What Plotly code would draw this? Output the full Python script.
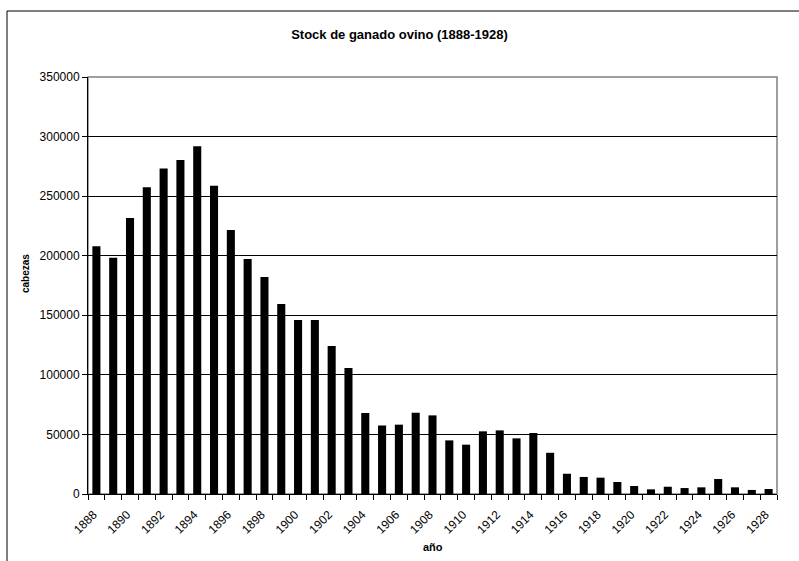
import plotly.graph_objects as go

years = list(range(1888, 1929))
cabezas = [208000, 198300, 231600, 257400, 273300, 280300, 291800, 258700, 221600, 197200,
           182100, 159500, 146000, 146000, 124200, 105700, 68000, 57500, 58200, 68200,
           66000, 45000, 41400, 52600, 53400, 46700, 51200, 34600, 17000, 14300,
           13700, 10100, 6700, 3900, 6100, 5000, 5600, 12600, 5600, 3400, 4200]
x_tick_years = list(range(1888, 1929, 2))
y_ticks = [0, 50000, 100000, 150000, 200000, 250000, 300000, 350000]

FONT = "Liberation Sans, Arial, sans-serif"

fig = go.Figure(go.Bar(
    x=years, y=cabezas,
    marker=dict(color="black", line=dict(width=0)),
    width=0.48,
))

fig.update_layout(
    width=799, height=561,
    margin=dict(l=88, r=22, t=77, b=67, autoexpand=False),
    paper_bgcolor="white", plot_bgcolor="white",
    showlegend=False,
    font=dict(family=FONT, size=11, color="black"),
    title=dict(text="<b>Stock de ganado ovino (1888-1928)</b>", x=0.5, xref="container",
               y=1 - 34 / 561, yref="container", yanchor="middle", xanchor="center",
               font=dict(size=13, family=FONT, color="black")),
    xaxis=dict(
        range=[1887.5, 1928.5], automargin=False,
        tickmode="array", tickvals=x_tick_years, ticktext=[str(y) for y in x_tick_years],
        tickangle=-45, ticks="", showgrid=False, zeroline=False,
        ticklabelstandoff=8, ticklabelshift=-3,
        showline=True, linecolor="black", linewidth=1,
        minor=dict(tick0=1887.5, dtick=1, ticks="outside", ticklen=5, tickcolor="black",
                   showgrid=False),
        tickfont=dict(size=12, family=FONT, color="black"),
    ),
    yaxis=dict(
        range=[0, 350000], automargin=False, tickmode="array", tickvals=y_ticks,
        ticktext=[str(v) for v in y_ticks],
        ticks="outside", ticklen=5, tickcolor="black",
        showgrid=True, gridcolor="black", gridwidth=1, zeroline=False,
        showline=True, linecolor="black", linewidth=1,
        tickfont=dict(size=12, family=FONT, color="black"),
    ),
    shapes=[
        dict(type="rect", xref="x domain", yref="y domain", x0=0, x1=1, y0=0, y1=1,
             line=dict(color="#808080", width=1.5), fillcolor="rgba(0,0,0,0)", layer="below"),
        dict(type="line", xref="paper", yref="paper",
             x0=-81 / 689, x1=-81 / 689, y0=-70 / 417, y1=1 + 66 / 417,
             line=dict(color="black", width=1)),
        dict(type="line", xref="paper", yref="paper",
             x0=-81 / 689, x1=1 + 23 / 689, y0=1 + 66 / 417, y1=1 + 66 / 417,
             line=dict(color="black", width=1)),
    ],
    annotations=[
        dict(text="<b>cabezas</b>", xref="paper", yref="paper", x=-63 / 689, y=(494 - 273) / 417,
             textangle=-90, showarrow=False, xanchor="center", yanchor="middle",
             font=dict(size=10, family=FONT, color="black")),
        dict(text="<b>año</b>", xref="paper", yref="paper", x=0.5, y=-53 / 417,
             showarrow=False, xanchor="center", yanchor="middle",
             font=dict(size=11, family=FONT, color="black")),
    ],
)

fig.write_html("out.html", config={"displayModeBar": False},
               post_script="document.body.style.margin='0';document.body.style.overflow='hidden';")
